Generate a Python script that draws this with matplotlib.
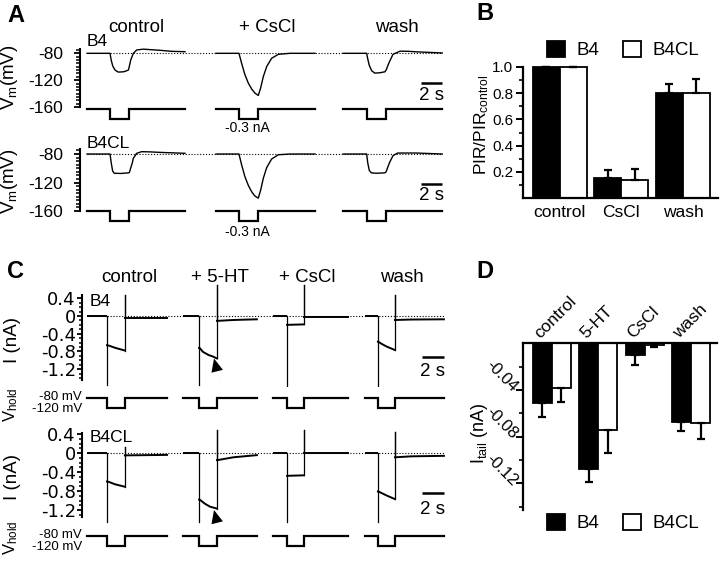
import matplotlib
matplotlib.use("Agg")
import matplotlib.pyplot as plt
from matplotlib.ticker import FixedLocator, NullLocator
import numpy as np

plt.rcParams['font.family'] = ['Liberation Sans', 'DejaVu Sans']
plt.rcParams['axes.unicode_minus'] = False
plt.rcParams['mathtext.fontset'] = 'custom'
plt.rcParams['mathtext.rm'] = 'Liberation Sans'
plt.rcParams['mathtext.it'] = 'Liberation Sans:italic'
plt.rcParams['mathtext.bf'] = 'Liberation Sans:bold'

# ======================= DATA =======================
# ---- Panel A : membrane potential traces (time s, Vm mV) ----
A_conditions = ["control", "+ CsCl", "wash"]
A_start = [0.67, 12.95, 25.05]       # trace start on the shared time axis (s)
A_step_on = [2.19, 2.19, 2.25]       # current-step onset, relative (s)
A_step_off = [4.0, 4.03, 4.13]       # current-step offset, relative (s)
A_end = [9.33, 9.43, 9.45]           # trace end, relative (s)
A_step_current = -0.3                # nA
A_rest = -80                         # mV

A_B4_control_t = [0, 2.19, 2.3, 2.45, 2.67, 2.98, 3.5, 3.94, 4.05, 4.16, 4.41, 4.73, 5.37, 6.0, 6.95, 8.0, 9.33]
A_B4_control_v = [-80, -80, -90, -99, -105, -108, -107.5, -105, -98, -90, -80, -75, -73.8, -74.5, -75.5, -77, -77.6]
A_B4_cscl_t = [0, 2.19, 2.44, 2.76, 3.08, 3.40, 3.71, 4.03, 4.25, 4.51, 4.83, 5.30, 5.94, 7.05, 9.43]
A_B4_cscl_v = [-80, -80, -94.8, -112, -124.4, -133.3, -139.3, -142.8, -131.9, -114.6, -99.8, -87.4, -81.5, -80, -80]
A_B4_wash_t = [0, 2.25, 2.35, 2.5, 2.73, 3.02, 3.5, 4.0, 4.13, 4.3, 4.44, 4.76, 5.43, 6.2, 7.0, 9.45]
A_B4_wash_v = [-80, -80, -88, -98, -106, -109.5, -109, -107.5, -104, -97, -92, -81.5, -76.8, -77, -77.8, -79.5]

A_B4CL_control_t = [0, 2.19, 2.3, 2.44, 2.6, 3.2, 3.9, 4.03, 4.15, 4.3, 4.41, 4.73, 5.2, 6.0, 6.95, 9.33]
A_B4CL_control_v = [-80, -80, -92, -104, -107, -107.3, -106.5, -106, -100, -93, -86, -79, -76.7, -77, -77.7, -79]
A_B4CL_cscl_t = [0, 2.19, 2.44, 2.76, 3.08, 3.40, 3.71, 4.03, 4.25, 4.51, 4.83, 5.30, 5.94, 7.05, 9.43]
A_B4CL_cscl_v = [-80, -80, -95, -112, -124, -133, -139, -142, -131, -114, -99, -87, -81, -80, -80]
A_B4CL_wash_t = [0, 2.25, 2.35, 2.5, 2.7, 3.2, 3.9, 4.05, 4.13, 4.3, 4.44, 4.76, 5.2, 7.0, 9.45]
A_B4CL_wash_v = [-80, -80, -92, -103, -106.5, -107, -106.5, -106, -104, -97, -91.7, -82.3, -78.6, -78.6, -80]

# ---- Panel B : normalised PIR ----
B_groups = ["control", "CsCl", "wash"]
B_B4 = [1.0, 0.15, 0.80]
B_B4_err = [0.0, 0.064, 0.07]
B_B4CL = [1.0, 0.135, 0.80]
B_B4CL_err = [0.0, 0.09, 0.11]
B_yticks = [0.2, 0.4, 0.6, 0.8, 1.0]
B_yticklabels = ["0.2", "0.4", "0.6", "0.8", "1.0"]

# ---- Panel C : voltage-clamp current traces (time s, I nA) ----
C_conditions = ["control", "+ 5-HT", "+ CsCl", "wash"]
C_start = [0.45, 9.18, 17.36, 25.73]
C_on = [2.27, 10.64, 18.64, 26.9]
C_off = [3.9, 12.27, 20.18, 28.45]
C_end = [7.73, 15.9, 24.18, 32.9]
C_hold = -80      # mV
C_step = -120     # mV

C_B4_step_t = [[0.05, 0.3, 0.75, 1.63], [0.05, 0.35, 0.85, 1.3, 1.63], [0.05, 1.54], [0.03, 0.34, 0.79, 1.55]]
C_B4_step_I = [[-0.66, -0.68, -0.72, -0.78], [-0.72, -0.81, -0.88, -0.92, -0.96], [-0.2, -0.19], [-0.58, -0.63, -0.69, -0.77]]
C_B4_tail_t = [[0.05, 3.83], [0.05, 1.5, 3.63], [0.05, 4.0], [0.05, 1.5, 4.45]]
C_B4_tail_I = [[-0.05, -0.05], [-0.11, -0.09, -0.075], [-0.015, -0.015], [-0.09, -0.08, -0.075]]
C_B4_spike_lo = [-1.56, -1.56, -1.58, -1.58]
C_B4_spike_hi = [0.47, 0.7, 0.7, 0.47]

C_B4CL_step_t = [[0.05, 0.3, 0.75, 1.63], [0.05, 0.55, 1.0, 1.63], [0.05, 1.54], [0.05, 0.48, 0.94, 1.55]]
C_B4CL_step_I = [[-0.6, -0.62, -0.66, -0.71], [-0.98, -1.07, -1.13, -1.17], [-0.48, -0.47], [-0.81, -0.86, -0.91, -0.97]]
C_B4CL_tail_t = [[0.05, 3.83], [0.05, 1.5, 3.63], [0.05, 4.0], [0.05, 1.5, 4.45]]
C_B4CL_tail_I = [[-0.05, -0.04], [-0.15, -0.09, -0.045], [0.0, 0.0], [-0.09, -0.07, -0.06]]
C_B4CL_spike_lo = [-1.45, -1.45, -1.45, -1.45]
C_B4CL_spike_hi = [0.13, 0.48, 0.48, 0.45]

C_yticks = [-1.2, -0.8, -0.4, 0, 0.4]
C_yticklabels = ["-1.2", "-0.8", "-0.4", "0", "0.4"]

# ---- Panel D : tail currents ----
D_groups = ["control", "5-HT", "CsCl", "wash"]
D_B4 = [-0.051, -0.108, -0.0103, -0.067]
D_B4_err = [0.012, 0.011, 0.0083, 0.0078]
D_B4CL = [-0.0386, -0.0743, -0.0014, -0.0686]
D_B4CL_err = [0.012, 0.0194, 0.0016, 0.0137]
D_yticks = [-0.12, -0.08, -0.04]
D_yticklabels = ["-0.12", "-0.08", "-0.04"]

# ======================= FIGURE =======================
W, H = 720, 564
fig = plt.figure(figsize=(W / 100, H / 100), dpi=100)


def rect(x0, y0, x1, y1):
    return [x0 / W, 1 - y1 / H, (x1 - x0) / W, (y1 - y0) / H]


def ftext(x, y, s, **kw):
    kw.setdefault('ha', 'center')
    kw.setdefault('va', 'center')
    fig.text(x / W, 1 - y / H, s, **kw)


def trace_axes(r, xlim, ylim):
    ax = fig.add_axes(r)
    ax.set_xlim(*xlim)
    ax.set_ylim(*ylim)
    for s in ['top', 'right', 'bottom']:
        ax.spines[s].set_visible(False)
    ax.xaxis.set_major_locator(NullLocator())
    ax.patch.set_alpha(0)
    return ax


def blank_axes(r, xlim, ylim):
    ax = fig.add_axes(r)
    ax.set_xlim(*xlim)
    ax.set_ylim(*ylim)
    ax.set_axis_off()
    return ax


LW_TRACE = 1.0
LW_STEP = 1.6

# ---------------- Panel A ----------------
A_xlim = (0, 370 / 10.5)
A_rows = [
    dict(traces=[(A_B4_control_t, A_B4_control_v), (A_B4_cscl_t, A_B4_cscl_v), (A_B4_wash_t, A_B4_wash_v)],
         tr=(80, 46.6, 450, 107), st=(80, 104, 450, 124), label="B4", label_y=41,
         ylab_y=77, nA_y=128, bar_mv=-124.3, bar_txt_y=95),
    dict(traces=[(A_B4CL_control_t, A_B4CL_control_v), (A_B4CL_cscl_t, A_B4CL_cscl_v), (A_B4CL_wash_t, A_B4CL_wash_v)],
         tr=(80, 146.9, 450, 211), st=(80, 206, 450, 226), label="B4CL", label_y=143,
         ylab_y=181, nA_y=232, bar_mv=-122.1, bar_txt_y=196),
]
for row in A_rows:
    ax = trace_axes(rect(*row['tr']), A_xlim, (-160, -70))
    ax.spines['left'].set_bounds(-160, -73)
    ax.spines['left'].set_linewidth(1.5)
    ax.yaxis.set_major_locator(FixedLocator([-160, -120, -80]))
    ax.set_yticklabels(["-160", "-120", "-80"])
    ax.yaxis.set_minor_locator(FixedLocator(list(range(-160, -74, 5))))
    ax.tick_params(axis='y', which='major', length=4, width=1.3, labelsize=12.5, pad=8)
    ax.tick_params(axis='y', which='minor', length=3, width=1.1)
    ax.hlines(A_rest, A_start[0], A_start[2] + A_end[2], colors='k', lw=0.8, linestyles=(0, (1, 1.6)))
    for i, (tt, vv) in enumerate(row['traces']):
        ax.plot([A_start[i] + t for t in tt], vv, color='k', lw=LW_TRACE, solid_joinstyle='round')
    # scale bar 2 s
    ax.plot([A_xlim[1] - 0.76 - 2, A_xlim[1] - 0.76], [row['bar_mv']] * 2, color='k', lw=1.8,
            solid_capstyle='butt')
    ftext(431.5, row['bar_txt_y'], "2 s", fontsize=13.5)
    sx = blank_axes(rect(*row['st']), A_xlim, (-0.45, 0.15))
    for i in range(3):
        s, on, off, end = A_start[i], A_step_on[i], A_step_off[i], A_end[i]
        sx.plot([s, s + on, s + on, s + off, s + off, s + end],
                [0, 0, A_step_current, A_step_current, 0, 0], color='k', lw=LW_STEP,
                solid_joinstyle='miter')
    ftext(87, row['label_y'], row['label'], fontsize=12.5, ha='left')
    ftext(10, row['ylab_y'], r"V$_{\mathrm{m}}$(mV)", fontsize=13.5, rotation=90)
    ftext(247, row['nA_y'], "-0.3 nA", fontsize=10)

ftext(16, 15, "A", fontsize=17, fontweight='bold')
for name, x in zip(A_conditions, [136, 267, 397]):
    ftext(x, 27, name, fontsize=13.5)

# ---------------- Panel B ----------------
axB = fig.add_axes(rect(523, 67, 718, 198))
xB = np.arange(len(B_groups))
wB = 0.44
axB.bar(xB - wB / 2, B_B4, wB, color='k', edgecolor='k', lw=1.3, label='B4', clip_on=False, zorder=2)
axB.bar(xB + wB / 2, B_B4CL, wB, color='w', edgecolor='k', lw=1.3, label='B4CL', clip_on=False, zorder=2)
axB.errorbar(xB - wB / 2, B_B4, yerr=[[0] * 3, B_B4_err], fmt='none', ecolor='k', elinewidth=1.6,
             capsize=3, capthick=1.6, zorder=3, clip_on=False)
axB.errorbar(xB + wB / 2, B_B4CL, yerr=[[0] * 3, B_B4CL_err], fmt='none', ecolor='k', elinewidth=1.6,
             capsize=3, capthick=1.6, zorder=3, clip_on=False)
axB.set_xlim(-0.6, 2.57)
axB.set_ylim(0, 1.0)
for s in ['top', 'right']:
    axB.spines[s].set_visible(False)
for s in ['left', 'bottom']:
    axB.spines[s].set_linewidth(1.6)
axB.set_xticks(xB)
axB.set_xticklabels(B_groups)
axB.tick_params(axis='x', length=0, labelsize=12.5, pad=5)
axB.yaxis.set_major_locator(FixedLocator(B_yticks))
axB.set_yticklabels(B_yticklabels)
axB.yaxis.set_minor_locator(FixedLocator([0.1, 0.3, 0.5, 0.7, 0.9]))
axB.tick_params(axis='y', which='major', length=5, width=1.4, labelsize=11, pad=2)
axB.tick_params(axis='y', which='minor', length=3, width=1.2)
axB.patch.set_alpha(0)
ftext(482, 125, r"PIR/PIR$_{\mathrm{control}}$", fontsize=12.5, rotation=90)
axB.legend(ncol=2, loc='center', bbox_to_anchor=(623 / W, 1 - 50 / H), bbox_transform=fig.transFigure,
           frameon=False, fontsize=13.5, handlelength=0.95, handleheight=0.95, handletextpad=0.6,
           columnspacing=1.3, borderpad=0, borderaxespad=0)
ftext(485, 14, "B", fontsize=17, fontweight='bold')

# ---------------- Panel C ----------------
C_xlim = (0, 370 / 11)
C_rows = [
    dict(step_t=C_B4_step_t, step_I=C_B4_step_I, tail_t=C_B4_tail_t, tail_I=C_B4_tail_I,
         lo=C_B4_spike_lo, hi=C_B4_spike_hi, tr=(82, 282.8, 452, 386.8), ylim=(-1.6, 0.75),
         bounds=(-1.45, 0.47), hold=(82, 393, 452, 413), label="B4", label_y=301,
         ylab_y=340, vh_y=405, mv_y=(396.5, 409.5), bar_I=-0.93, bar_txt_y=372,
         arrow=((12.0, -0.96), (12.54, -1.50))),
    dict(step_t=C_B4CL_step_t, step_I=C_B4CL_step_I, tail_t=C_B4CL_tail_t, tail_I=C_B4CL_tail_I,
         lo=C_B4CL_spike_lo, hi=C_B4CL_spike_hi, tr=(82, 428.3, 452, 524.25), ylim=(-1.5, 0.52),
         bounds=(-1.35, 0.42), hold=(82, 531, 452, 551), label="B4CL", label_y=437,
         ylab_y=477, vh_y=538, mv_y=(534.5, 547.5), bar_I=-0.84, bar_txt_y=509,
         arrow=((12.0, -1.2), (12.54, -1.70))),
]
for row in C_rows:
    ax = trace_axes(rect(*row['tr']), C_xlim, row['ylim'])
    ax.spines['left'].set_bounds(*row['bounds'])
    ax.spines['left'].set_linewidth(1.5)
    ax.yaxis.set_major_locator(FixedLocator(C_yticks))
    ax.set_yticklabels(C_yticklabels, fontfamily='DejaVu Sans')
    lo_b, hi_b = row['bounds']
    ax.yaxis.set_minor_locator(FixedLocator([v for v in np.round(np.arange(-1.4, 0.45, 0.1), 2)
                                             if lo_b <= v <= hi_b]))
    ax.tick_params(axis='y', which='major', length=3.5, width=1.3, labelsize=13, pad=1)
    ax.tick_params(axis='y', which='minor', length=2.5, width=1.1)
    ax.hlines(0, C_start[0], C_end[3], colors='k', lw=0.8, linestyles=(0, (1, 1.6)))
    for i in range(4):
        on, off = C_on[i], C_off[i]
        step_tt = [on] + [on + d for d in row['step_t'][i]]
        step_ii = [row['step_I'][i][0]] + row['step_I'][i]
        tail_tt = [off] + [off + d for d in row['tail_t'][i]]
        tail_ii = [row['tail_I'][i][0]] + row['tail_I'][i]
        # capacitive transients (thin vertical strokes)
        ax.plot([on, on], [0, row['lo'][i]], color='k', lw=0.9)
        ax.plot([off, off], [row['step_I'][i][-1], row['hi'][i]], color='k', lw=0.9)
        ax.plot([off, off], [row['hi'][i], row['tail_I'][i][0]], color='k', lw=0.9)
        # baseline, step and tail currents
        ax.plot([C_start[i], on], [0, 0], color='k', lw=1.4, solid_capstyle='butt')
        ax.plot(step_tt, step_ii, color='k', lw=1.4, solid_joinstyle='round')
        ax.plot(tail_tt, tail_ii, color='k', lw=1.4, solid_joinstyle='round')
    (tx, ty), (bx, by) = row['arrow']
    ax.annotate('', xy=(tx, ty), xytext=(bx, by), annotation_clip=False,
                arrowprops=dict(facecolor='k', edgecolor='none', width=0.01, headwidth=8.5,
                                headlength=9.5, shrink=0))
    ax.plot([C_xlim[1] - 0.73 - 2, C_xlim[1] - 0.73], [row['bar_I']] * 2, color='k', lw=1.8,
            solid_capstyle='butt')
    ftext(433, row['bar_txt_y'], "2 s", fontsize=13.5)
    hx = blank_axes(rect(*row['hold']), C_xlim, (-140, -60))
    for i in range(4):
        hx.plot([C_start[i], C_on[i], C_on[i], C_off[i], C_off[i], C_end[i]],
                [C_hold, C_hold, C_step, C_step, C_hold, C_hold], color='k', lw=LW_STEP,
                solid_joinstyle='miter')
    ftext(90, row['label_y'], row['label'], fontsize=12.5, ha='left')
    ftext(13, row['ylab_y'], "I (nA)", fontsize=13.5, rotation=90)
    ftext(11, row['vh_y'], r"V$_{\mathrm{hold}}$", fontsize=12, rotation=90)
    ftext(82, row['mv_y'][0], "-80 mV", fontsize=9.5, ha='right')
    ftext(82, row['mv_y'][1], "-120 mV", fontsize=9.5, ha='right')

ftext(16, 272, "C", fontsize=17, fontweight='bold')
for name, x in zip(C_conditions, [129, 220, 307, 402]):
    ftext(x, 278, name, fontsize=13.5)

# ---------------- Panel D ----------------
axD = fig.add_axes(rect(523, 343.3, 717, 510))
xD = np.arange(len(D_groups))
wD = 0.41
axD.bar(xD - wD / 2, D_B4, wD, color='k', edgecolor='k', lw=1.3, label='B4', zorder=2)
axD.bar(xD + wD / 2, D_B4CL, wD, color='w', edgecolor='k', lw=1.3, label='B4CL', zorder=2)
axD.errorbar(xD - wD / 2, D_B4, yerr=[D_B4_err, [0] * 4], fmt='none', ecolor='k', elinewidth=1.6,
             capsize=3, capthick=1.6, zorder=3)
axD.errorbar(xD + wD / 2, D_B4CL, yerr=[D_B4CL_err, [0] * 4], fmt='none', ecolor='k', elinewidth=1.6,
             capsize=3, capthick=1.6, zorder=3)
axD.set_xlim(-0.62, 3.56)
axD.set_ylim(-0.1428, 0)
for s in ['bottom', 'right']:
    axD.spines[s].set_visible(False)
for s in ['left', 'top']:
    axD.spines[s].set_linewidth(1.6)
axD.xaxis.set_major_locator(NullLocator())
axD.yaxis.set_major_locator(FixedLocator(D_yticks))
axD.yaxis.set_minor_locator(FixedLocator([-0.14, -0.10, -0.06, -0.02]))
axD.tick_params(axis='y', which='major', length=5, width=1.4, labelleft=False)
axD.tick_params(axis='y', which='minor', length=3, width=1.2)
ytr = axD.get_yaxis_transform()
for yv, lab in zip(D_yticks, D_yticklabels):
    axD.text(-8 / 194, yv, lab, transform=ytr, rotation=-45, rotation_mode='anchor',
             ha='right', va='center', fontsize=12)
for i, name in enumerate(D_groups):
    axD.text(xD[i] - wD + 0.2, 0.002, name, rotation=45, rotation_mode='anchor', ha='left', va='bottom',
             fontsize=12.5)
axD.patch.set_alpha(0)
ftext(480, 433, r"I$_{\mathrm{tail}}$ (nA)", fontsize=13, rotation=90)
axD.legend(ncol=2, loc='center', bbox_to_anchor=(623 / W, 1 - 523 / H), bbox_transform=fig.transFigure,
           frameon=False, fontsize=13.5, handlelength=0.95, handleheight=0.95, handletextpad=0.6,
           columnspacing=1.3, borderpad=0, borderaxespad=0)
ftext(485, 272, "D", fontsize=17, fontweight='bold')

fig.savefig("out.png", dpi=100)
